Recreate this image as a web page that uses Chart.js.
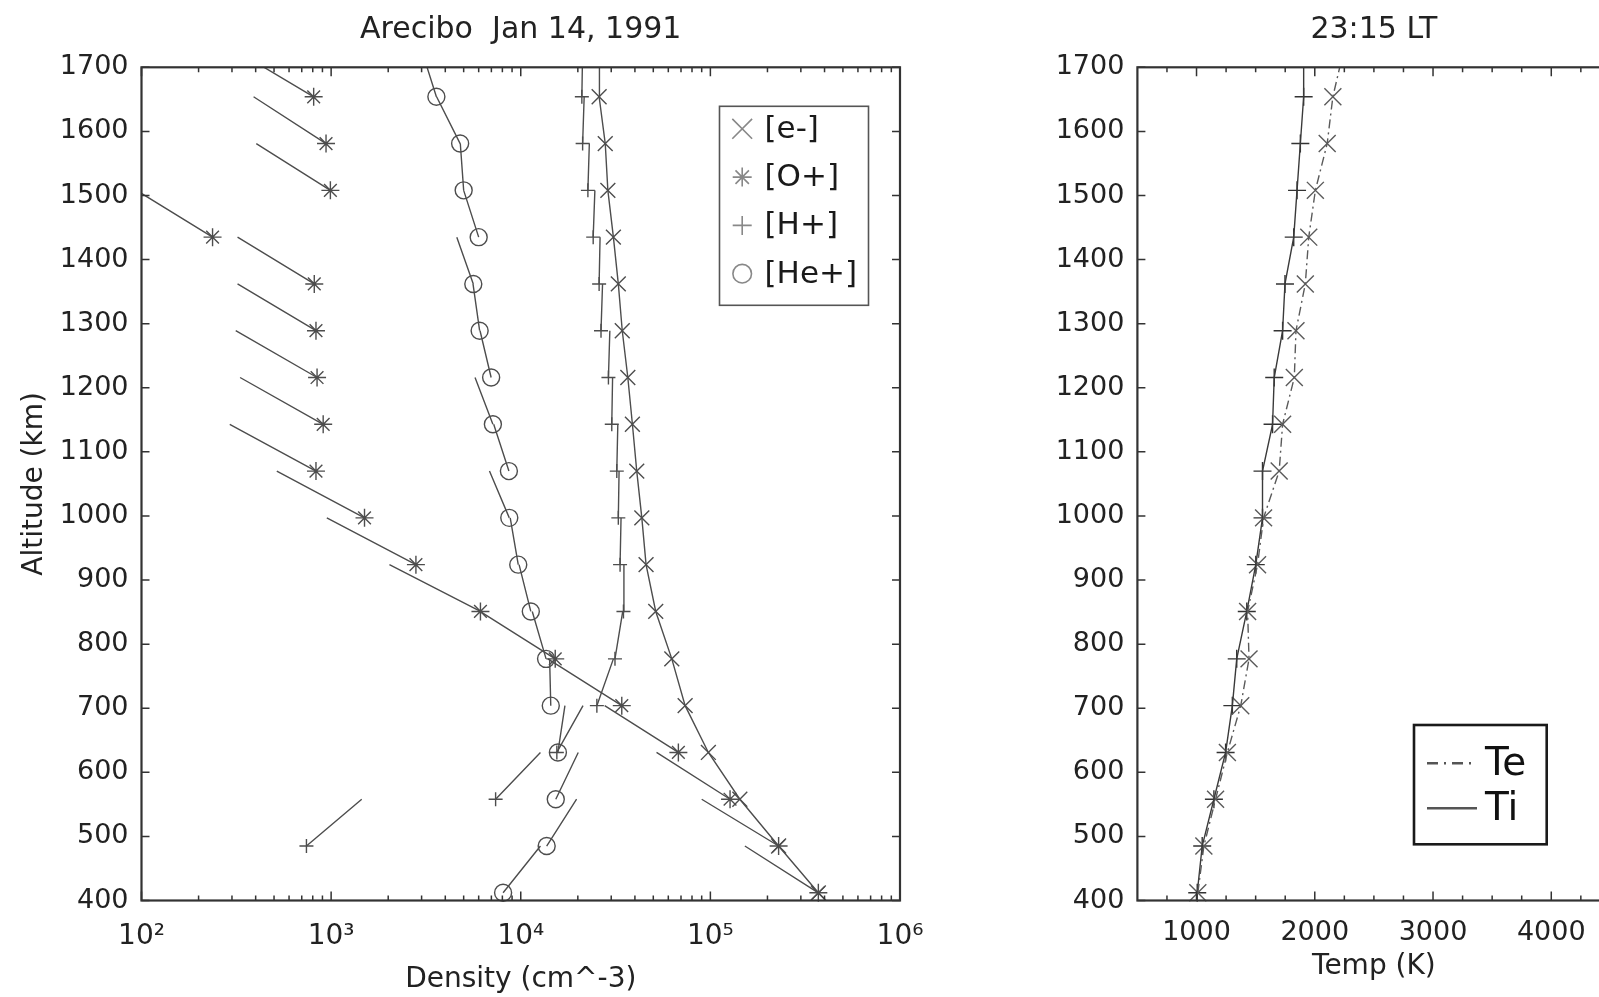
<!DOCTYPE html>
<html lang="en">
<head>
<meta charset="UTF-8">
<title>Arecibo Jan 14, 1991</title>
<script src="https://cdn.jsdelivr.net/npm/chart.js"></script>
<style>
  html, body { margin: 0; padding: 0; background: #fff; overflow: hidden; width: 1599px; height: 997px; }
  canvas { position: absolute; top: 0; }
  #densityChart { left: 0; }
  #tempChart { left: 1000px; }
</style>
</head>
<body>
<canvas id="densityChart" width="960" height="997"></canvas>
<canvas id="tempChart" width="700" height="997"></canvas>
<script>
// range gates (km), bottom to top, and the upper edge of each gate
const altitudes = [412, 485, 558, 631, 704, 777, 851, 924, 997, 1070, 1143, 1216, 1289, 1362, 1435, 1508, 1581, 1654];
const gateTops  = [485, 558, 631, 704, 777, 851, 924, 997, 1070, 1143, 1216, 1289, 1362, 1435, 1508, 1581, 1654, 1727];

// densities (cm^-3) at each gate, and at the upper end of each fitted segment
const electrons   = [3.71e5, 2.29e5, 1.43e5, 9.76e4, 7.36e4, 6.26e4, 5.15e4, 4.58e4, 4.35e4, 4.09e4, 3.88e4, 3.67e4, 3.43e4, 3.27e4, 3.08e4, 2.88e4, 2.79e4, 2.59e4];
const electronTop = 2.6e4;
const oxygen      = [3.71e5, 2.29e5, 1.27e5, 6.78e4, 3.41e4, 1.52e4, 6.13e3, 2.8e3, 1.5e3, 832, 908, 843, 832, 815, 237, 991, 940, 809];
const oxygenTop   = [1.52e5, 9.0e4, 5.2e4, 2.77e4, 1.39e4, 6.1e3, 2.03e3, 949, 517, 292, 331, 314, 321, 321, 94, 403, 390, 311];
const hydrogen    = [null, 741, 7.37e3, 1.55e4, 2.52e4, 3.14e4, 3.48e4, 3.34e4, 3.27e4, 3.21e4, 3.02e4, 2.90e4, 2.65e4, 2.59e4, 2.41e4, 2.26e4, 2.12e4, 2.10e4];
const hydrogenTop = [null, 1.45e3, 1.27e4, 2.13e4, 3.08e4, 3.45e4, 3.5e4, 3.38e4, 3.3e4, 3.25e4, 3.05e4, 2.95e4, 2.7e4, 2.62e4, 2.46e4, 2.3e4, 2.16e4, 2.12e4];
const helium      = [8.07e3, 1.37e4, 1.53e4, 1.57e4, 1.44e4, 1.36e4, 1.13e4, 9.7e3, 8.7e3, 8.66e3, 7.13e3, 6.98e3, 6.07e3, 5.62e3, 6.0e3, 5.0e3, 4.79e3, 3.59e3];
const heliumTop   = [1.27e4, 1.97e4, 2.01e4, 1.71e4, 1.42e4, 1.15e4, 9.8e3, 8.8e3, 6.84e3, 7.2e3, 5.74e3, 6.1e3, 5.6e3, 4.6e3, 5.0e3, 4.8e3, 3.6e3, 3.0e3];

// temperatures (K)
const electronTemp    = [1011, 1062, 1161, 1261, 1374, 1444, 1432, 1516, 1567, 1699, 1728, 1827, 1841, 1920, 1949, 2005, 2105, 2153];
const electronTempTop = 2245;
const ionTemp         = [1006, 1048, 1147, 1246, 1303, 1340, 1425, 1501, 1558, 1558, 1643, 1657, 1728, 1748, 1822, 1850, 1878, 1906];
const ionTempTop      = 1906;

const densityTicks = [1e2, 1e3, 1e4, 1e5, 1e6];
const densityTickLabels = ['10²', '10³', '10⁴', '10⁵', '10⁶'];
const tempTicks = [1000, 2000, 3000, 4000];
const ionLabels = ['[e-]', '[O+]', '[H+]', '[He+]'];
const tempLabels = ['Te', 'Ti'];

const FONT = '"DejaVu Sans", sans-serif';
const ink = '#4d4d4d';
const axisInk = '#333';
Chart.defaults.font.family = FONT;
Chart.defaults.color = '#222';
Chart.defaults.animation = false;

function points(values) {
  return values.map((v, i) => ({x: v, y: altitudes[i]})).filter(p => p.x != null);
}
function segments(values, tops) {
  const pts = [];
  values.forEach((v, i) => {
    if (v == null) return;
    pts.push({x: v, y: altitudes[i]}, {x: tops[i], y: gateTops[i]}, {x: null, y: null});
  });
  return pts;
}

const lineStyle = {showLine: true, pointRadius: 0, borderColor: ink, borderWidth: 1.4, fill: false, spanGaps: false};
function markers(data, style, r, color) {
  return {data, showLine: false, pointStyle: style, pointRadius: r, borderColor: color || ink,
          pointBorderWidth: 1.4, backgroundColor: 'rgba(0,0,0,0)', clip: false};
}

// inward ticks on all four sides plus the box
function drawFrame(chart, xMajor, xMinor) {
  const {ctx, chartArea: a} = chart;
  const xs = chart.scales.x, ys = chart.scales.y;
  ctx.save();
  ctx.strokeStyle = axisInk;
  ctx.lineWidth = 1.5;
  ctx.beginPath();
  const xTick = (v, len) => {
    const p = xs.getPixelForValue(v);
    ctx.moveTo(p, a.bottom); ctx.lineTo(p, a.bottom - len);
    ctx.moveTo(p, a.top); ctx.lineTo(p, a.top + len);
  };
  xMajor.forEach(v => xTick(v, 9));
  xMinor.forEach(v => xTick(v, 5));
  ys.ticks.forEach(t => {
    const p = ys.getPixelForValue(t.value);
    ctx.moveTo(a.left, p); ctx.lineTo(a.left + 8, p);
    ctx.moveTo(a.right, p); ctx.lineTo(a.right - 8, p);
  });
  ctx.stroke();
  ctx.lineWidth = 2.2;
  ctx.strokeRect(a.left, a.top, a.right - a.left, a.bottom - a.top);
  ctx.restore();
}

function yScale(width, withTitle) {
  return {
    type: 'linear', min: 400, max: 1700,
    ticks: {stepSize: 100, padding: 13, font: {size: 27}, callback: v => String(v)},
    grid: {display: false, drawTicks: false},
    border: {display: false},
    title: {display: withTitle, text: 'Altitude (km)', font: {size: 28}, padding: {top: 18, bottom: 0}},
    afterFit: s => { s.width = width; }
  };
}

const titleFont = {size: 30, weight: 'normal'};
const titlePadding = {top: 12.5, bottom: 18.8};

const densityMinor = [];
densityTicks.slice(0, -1).forEach(d => { for (let m = 2; m <= 9; m++) densityMinor.push(d * m); });

new Chart(document.getElementById('densityChart'), {
  type: 'scatter',
  data: {
    datasets: [
      {...lineStyle, data: points(electrons).concat({x: electronTop, y: gateTops[gateTops.length - 1]})},
      {...lineStyle, data: segments(oxygen, oxygenTop)},
      {...lineStyle, data: segments(hydrogen, hydrogenTop)},
      {...lineStyle, data: segments(helium, heliumTop)},
      markers(points(electrons), 'crossRot', 10.5),
      markers(points(oxygen), 'star', 9),
      markers(points(hydrogen), 'cross', 7),
      markers(points(helium), 'circle', 8.5)
    ]
  },
  options: {
    responsive: false,
    layout: {padding: {top: 0, left: 0, right: 60, bottom: 0}},
    plugins: {
      legend: {display: false},
      tooltip: {enabled: false},
      title: {display: true, fullSize: false, text: 'Arecibo  Jan 14, 1991', color: '#222',
              font: titleFont, padding: titlePadding}
    },
    scales: {
      x: {
        type: 'logarithmic', position: 'bottom', min: 1e2, max: 1e6,
        afterBuildTicks: s => { s.ticks = densityTicks.map(v => ({value: v})); },
        ticks: {callback: (v, i) => densityTickLabels[i], padding: 19, font: {size: 28}, maxRotation: 0, autoSkip: false},
        grid: {display: false, drawTicks: false},
        border: {display: false},
        title: {display: true, text: 'Density (cm^-3)', font: {size: 28}, padding: {top: 0, bottom: 0}},
        afterFit: s => { s.height = 96.5; }
      },
      y: yScale(141.5, true)
    }
  },
  plugins: [{
    id: 'ionFrame',
    afterDraw(chart) {
      drawFrame(chart, densityTicks, densityMinor);
      const {ctx, chartArea: a} = chart;
      const w = 149, h = 199, x0 = a.right - 31.5 - w, y0 = a.top + 39;
      const styles = [['crossRot', 14], ['star', 9.5], ['cross', 9.5], ['circle', 9.3]];
      ctx.save();
      ctx.fillStyle = '#fff';
      ctx.fillRect(x0, y0, w, h);
      ctx.strokeStyle = '#555';
      ctx.lineWidth = 1.6;
      ctx.strokeRect(x0, y0, w, h);
      ctx.font = '31px ' + FONT;
      ctx.textBaseline = 'middle';
      ionLabels.forEach((label, i) => {
        const y = y0 + 22.5 + i * 48.3;
        ctx.strokeStyle = '#888';
        ctx.fillStyle = 'rgba(0,0,0,0)';
        Chart.helpers.drawPoint(ctx, {pointStyle: styles[i][0], radius: styles[i][1], borderWidth: 1.4, rotation: 0}, x0 + 22.7, y);
        ctx.fillStyle = '#1a1a1a';
        ctx.fillText(label, x0 + 45, y + 1);
      });
      ctx.restore();
    }
  }]
});

const tempMinor = [];
for (let t = 750; t < 4500; t += 250) tempMinor.push(t);

new Chart(document.getElementById('tempChart'), {
  type: 'scatter',
  data: {
    datasets: [
      {...lineStyle, borderColor: '#5a5a5a', borderDash: [9, 4, 2, 4],
       data: points(electronTemp).concat({x: electronTempTop, y: gateTops[gateTops.length - 1]})},
      {...lineStyle, borderColor: '#3a3a3a',
       data: points(ionTemp).concat({x: ionTempTop, y: gateTops[gateTops.length - 1]})},
      markers(points(electronTemp), 'crossRot', 12, '#5a5a5a'),
      markers(points(ionTemp), 'cross', 9, '#333')
    ]
  },
  options: {
    responsive: false,
    layout: {padding: {top: 0, left: 0, right: 89.6, bottom: 0}},
    plugins: {
      legend: {display: false},
      tooltip: {enabled: false},
      title: {display: true, fullSize: false, text: '23:15 LT', color: '#222',
              font: titleFont, padding: titlePadding}
    },
    scales: {
      x: {
        type: 'linear', position: 'bottom', min: 500, max: 4500,
        afterBuildTicks: s => { s.ticks = tempTicks.map(v => ({value: v})); },
        ticks: {callback: v => String(v), padding: 16.5, font: {size: 27}, maxRotation: 0, autoSkip: false},
        grid: {display: false, drawTicks: false},
        border: {display: false},
        title: {display: true, text: 'Temp (K)', font: {size: 28}, padding: {top: 0, bottom: 13.5}},
        afterFit: s => { s.height = 96.5; }
      },
      y: yScale(137.4, false)
    }
  },
  plugins: [{
    id: 'tempFrame',
    afterDraw(chart) {
      drawFrame(chart, tempTicks, tempMinor);
      const {ctx, chartArea: a} = chart;
      const w = 132.7, h = 119.3, x0 = a.right - 63.7 - w, y0 = a.bottom - 56.2 - h;
      const dashes = [[11, 6, 2, 6], []];
      ctx.save();
      ctx.fillStyle = '#fff';
      ctx.fillRect(x0, y0, w, h);
      ctx.strokeStyle = '#1a1a1a';
      ctx.lineWidth = 2.6;
      ctx.strokeRect(x0, y0, w, h);
      ctx.font = '39px ' + FONT;
      ctx.textBaseline = 'middle';
      tempLabels.forEach((label, i) => {
        const y = y0 + 38.3 + i * 45;
        ctx.strokeStyle = '#555';
        ctx.lineWidth = 2.6;
        ctx.setLineDash(dashes[i]);
        ctx.beginPath();
        ctx.moveTo(x0 + 13, y);
        ctx.lineTo(x0 + 63, y);
        ctx.stroke();
        ctx.setLineDash([]);
        ctx.fillStyle = '#111';
        ctx.fillText(label, x0 + 71, y + 2);
      });
      ctx.restore();
    }
  }]
});
</script>
</body>
</html>
